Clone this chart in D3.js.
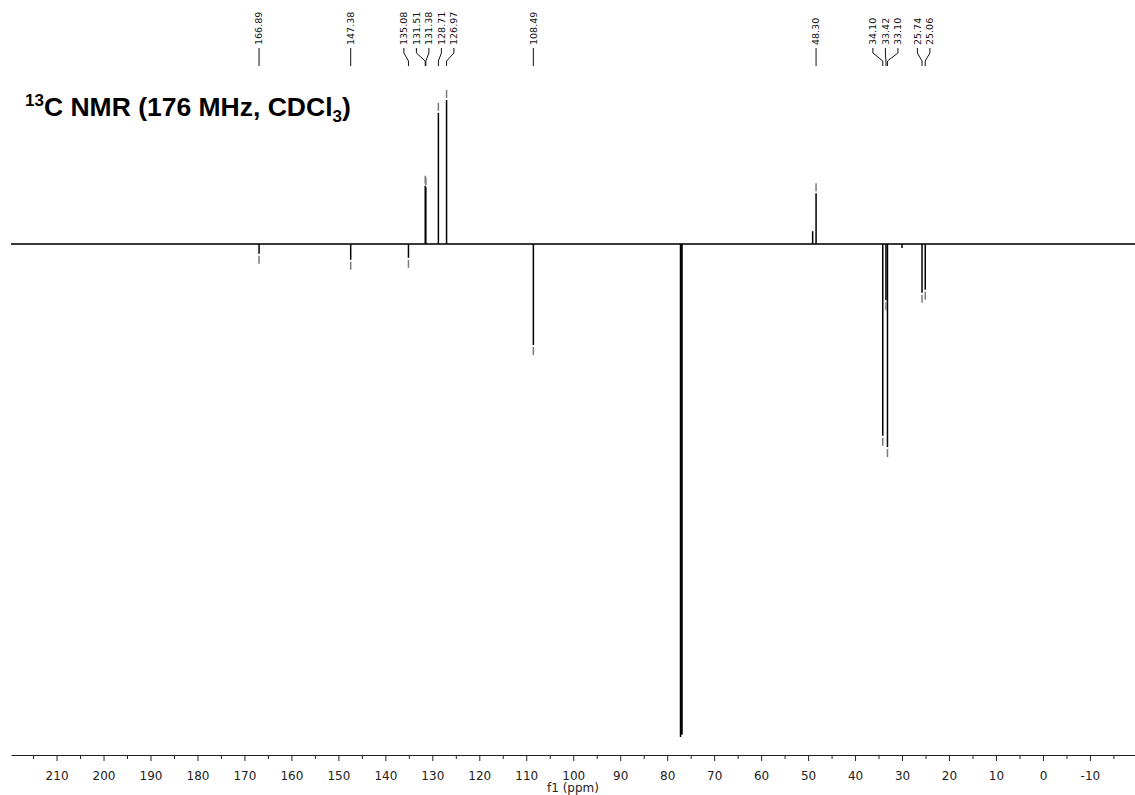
<!DOCTYPE html>
<html>
<head>
<meta charset="utf-8">
<script src="https://cdn.jsdelivr.net/npm/d3@7"></script>
<style>
  html, body { margin: 0; padding: 0; background: #fff; }
  svg { display: block; }
</style>
</head>
<body>
<svg id="chart" width="1135" height="795"></svg>
<script>
(function () {
  'use strict';

  // ── Data ──────────────────────────────────────────────────────────────────
  // peak positions (ppm) and heights (relative, CDCl3 solvent = -100)
  var peakPpm = [166.89, 147.38, 135.08, 131.51, 131.38, 128.71, 126.97, 108.49,
                 77.16, 77.00, 76.84, 49.03, 48.30, 34.10, 33.42, 33.10, 30.00, 25.74, 25.06];
  var peakInt = [-2.0, -3.2, -2.8, 11.8, 11.5, 26.6, 29.2, -20.5,
                 -100, -99.5, -99.5, 2.6, 10.3, -38.9, -11.4, -41.2, -0.8, -9.9, -9.3];

  // picked peaks shown in the label row
  var labelPpm = [166.89, 147.38, 135.08, 131.51, 131.38, 128.71, 126.97, 108.49,
                  48.30, 34.10, 33.42, 33.10, 25.74, 25.06];

  var majorTicks = d3.range(210, -11, -10);
  var minorTicks = d3.range(215, -16, -5).filter(function (v) { return v % 10 !== 0; });

  var svg = d3.select('#chart');

  var x = d3.scaleLinear().domain([219.7, -19.6]).range([11, 1135]);
  var y = d3.scaleLinear().domain([-100, 0]).range([737, 244]);

  var peaks = peakPpm.map(function (p, i) { return { ppm: p, v: peakInt[i] }; });
  function peakAt(p) {
    return peaks.filter(function (d) { return d.ppm === p; })[0];
  }

  // ── Baseline + peaks ──────────────────────────────────────────────────────
  svg.append('path')
    .datum(x.domain())
    .attr('d', d3.line().x(function (d) { return x(d); }).y(y(0)))
    .attr('stroke', '#3a3a3a')
    .attr('stroke-width', 2)
    .attr('fill', 'none');

  svg.append('g')
    .selectAll('line')
    .data(peaks)
    .join('line')
    .attr('x1', function (d) { return x(d.ppm); })
    .attr('x2', function (d) { return x(d.ppm); })
    .attr('y1', y(0))
    .attr('y2', function (d) { return y(d.v); })
    .attr('stroke', '#000')
    .attr('stroke-width', 1.5);

  // peak-top markers of the picked peaks
  svg.append('g')
    .selectAll('line')
    .data(labelPpm.map(peakAt))
    .join('line')
    .attr('x1', function (d) { return x(d.ppm); })
    .attr('x2', function (d) { return x(d.ppm); })
    .attr('y1', function (d) { return y(d.v) + (d.v > 0 ? -2 : 2); })
    .attr('y2', function (d) { return y(d.v) + (d.v > 0 ? -10 : 10); })
    .attr('stroke', '#7a7a7a')
    .attr('stroke-width', 1.5);

  // ── Peak labels (spread out so they do not overlap) ───────────────────────
  var GAP = 12.5;
  var labels = labelPpm.map(function (p) { return { ppm: p, px: x(p) }; })
    .sort(function (a, b) { return a.px - b.px; });
  var groups = labels.map(function (l) { return { items: [l], mean: l.px }; });
  var merged = true;
  while (merged) {
    merged = false;
    for (var i = 0; i < groups.length - 1; i++) {
      var a = groups[i], b = groups[i + 1];
      var aEnd = a.mean + (a.items.length - 1) * GAP / 2;
      var bStart = b.mean - (b.items.length - 1) * GAP / 2;
      if (bStart - aEnd < GAP) {
        var items = a.items.concat(b.items);
        groups.splice(i, 2, { items: items, mean: d3.mean(items, function (d) { return d.px; }) });
        merged = true;
        break;
      }
    }
  }
  groups.forEach(function (g) {
    g.items.forEach(function (l, k) {
      l.lx = g.mean + (k - (g.items.length - 1) / 2) * GAP;
    });
  });

  var lab = svg.append('g');
  lab.selectAll('text')
    .data(labels)
    .join('text')
    .attr('transform', function (d) { return 'translate(' + (d.lx + 3.4) + ',45) rotate(-90)'; })
    .attr('font-family', 'DejaVu Sans, Verdana, sans-serif')
    .attr('font-size', 9.5)
    .attr('fill', '#111')
    .text(function (d) { return d.ppm.toFixed(2); });

  lab.selectAll('path')
    .data(labels)
    .join('path')
    .attr('d', function (d) {
      return 'M' + d.lx + ',48V53L' + d.px + ',61V66';
    })
    .attr('stroke', '#111')
    .attr('stroke-width', 1)
    .attr('fill', 'none');

  // ── Axis ──────────────────────────────────────────────────────────────────
  var axisY = 755;
  var gx = svg.append('g')
    .attr('transform', 'translate(0,' + axisY + ')')
    .call(d3.axisBottom(x).tickValues(majorTicks).tickSize(6).tickSizeOuter(0)
      .tickPadding(10).tickFormat(function (d) { return String(d); }));
  gx.select('.domain').attr('stroke', '#222');
  gx.selectAll('.tick line').attr('stroke', '#222');
  gx.selectAll('text')
    .attr('font-family', 'DejaVu Sans, Verdana, sans-serif')
    .attr('font-size', 12)
    .attr('fill', '#222');

  svg.append('g')
    .attr('transform', 'translate(0,' + axisY + ')')
    .call(d3.axisBottom(x).tickValues(minorTicks).tickSize(4).tickSizeOuter(0).tickFormat(''))
    .call(function (g) { g.select('.domain').remove(); })
    .selectAll('.tick line').attr('stroke', '#222');

  svg.append('text')
    .attr('x', (x.range()[0] + x.range()[1]) / 2)
    .attr('y', 792)
    .attr('text-anchor', 'middle')
    .attr('font-family', 'DejaVu Sans, Verdana, sans-serif')
    .attr('font-size', 12)
    .attr('fill', '#222')
    .text('f1 (ppm)');

  // ── Title ─────────────────────────────────────────────────────────────────
  var title = svg.append('text')
    .attr('x', 25)
    .attr('y', 116)
    .attr('font-family', 'Liberation Sans, Arial, sans-serif')
    .attr('font-weight', 'bold')
    .attr('font-size', 26.5)
    .attr('fill', '#000');
  title.append('tspan').attr('font-size', 17).attr('dy', -10).text('13');
  title.append('tspan').attr('dy', 10).text('C NMR (176 MHz, CDCl');
  title.append('tspan').attr('font-size', 17).attr('dy', 6).text('3');
  title.append('tspan').attr('dy', -6).text(')');
})();
</script>
</body>
</html>
